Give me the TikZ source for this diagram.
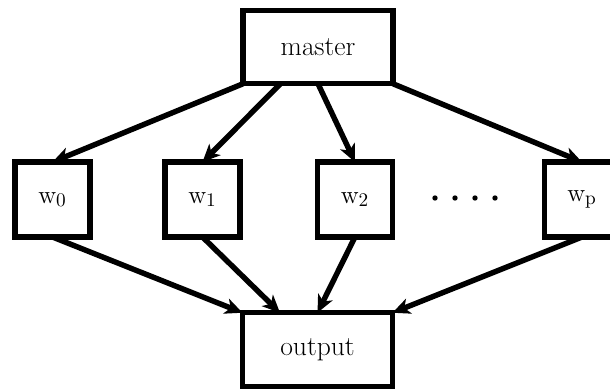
\documentclass[tikz,border=0pt]{standalone}
\usetikzlibrary{arrows.meta,calc}
\begin{document}
\begin{tikzpicture}[x=0.02cm,y=-0.02cm,
  box/.style={draw,line width=3.1pt,outer sep=0pt,inner sep=0pt,fill=white,
    font=\fontsize{15.7}{18}\selectfont},
  bigbox/.style={box,minimum width=3cm,minimum height=1.47cm},
  wbox/.style={box,minimum width=1.5cm,minimum height=1.5cm},
  conn/.style={line width=3.1pt,-{Stealth[length=10pt,width=9pt,inset=2.8pt]}}]
\useasboundingbox (0,0) rectangle (610,389);
\node[bigbox] (master) at (318,47) {master};
\node[wbox] (w0) at (52.5,199.5) {$\mathrm{w}_0$};
\node[wbox] (w1) at (202.5,199.5) {$\mathrm{w}_1$};
\node[wbox] (w2) at (355,199.5) {$\mathrm{w}_2$};
\node[wbox] (wp) at (582,199.5) {$\mathrm{w}_\mathrm{p}$};
\node[bigbox] (output) at (317.5,349.5) {output};
\foreach \i in {435,455,475,495} \fill (\i,198) circle (2.7);
\draw[conn] (master.south west) -- (w0.north);
\draw[conn] ($(master.south west)!0.25!(master.south east)$) -- (w1.north);
\draw[conn] (master.south) -- (w2.north);
\draw[conn] (master.south east) -- (wp.north);
\draw[conn] (w0.south) -- (output.north west);
\draw[conn] (w1.south) -- ($(output.north west)!0.25!(output.north east)$);
\draw[conn] (w2.south) -- (output.north);
\draw[conn] (wp.south) -- (output.north east);
\end{tikzpicture}
\end{document}
